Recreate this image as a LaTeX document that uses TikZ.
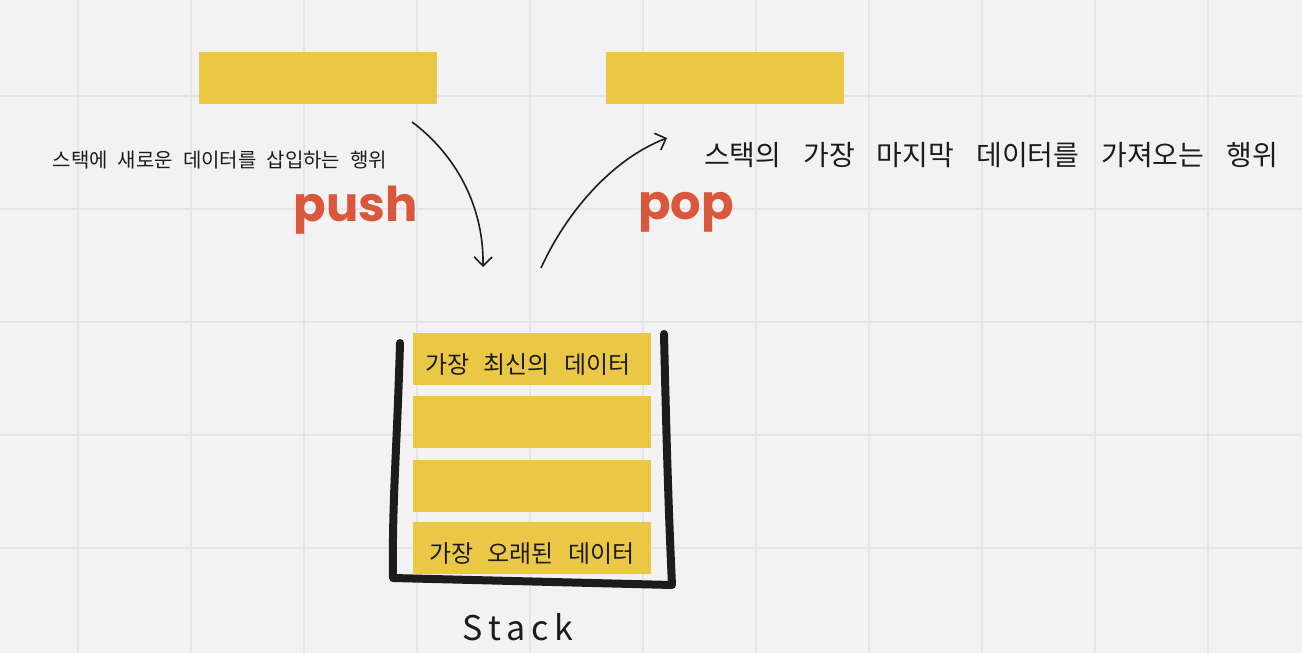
\documentclass[tikz,border=0pt]{standalone}
\usepackage{fontspec}
\setmainfont{Noto Sans CJK KR}
\newfontfamily\popfont{Poppins}
\usetikzlibrary{arrows.meta, positioning}
\definecolor{paper}{HTML}{F2F2F2}
\definecolor{gridline}{HTML}{E5E5E5}
\definecolor{note}{HTML}{EBC746}
\definecolor{accent}{HTML}{D9573A}
\definecolor{ink}{HTML}{1C1C1C}
\newcommand\wordgap[1]{\spaceskip=#1\relax}
\tikzset{
    databox/.style={fill=note, draw=none, minimum width=238pt, minimum height=52pt, inner sep=0pt},
    handtext/.style={text=ink, inner sep=0pt, font=\fontsize{20}{24}\selectfont\wordgap{10pt}},
    celltext/.style={text=ink, inner sep=0pt, font=\fontsize{24}{28}\selectfont\wordgap{14pt}},
    opname/.style={text=accent, inner sep=0pt, font=\popfont\bfseries\fontsize{48}{50}\selectfont},
    flow/.style={-{Straight Barb[length=9pt,width=18pt]}, line width=1.6pt, ink}
}

\begin{document}
\begin{tikzpicture}[x=1pt, y=-1pt]
    % paper and grid
    \fill[paper] (0,0) rectangle (1302,653);
    \useasboundingbox (0,0) rectangle (1302,653);
    \foreach \gx in {78,191,...,1208}
        \draw[gridline, line width=1.5pt] (\gx,0) -- (\gx,653);
    \foreach \gy in {96,209,...,548}
        \draw[gridline, line width=1.5pt] (0,\gy) -- (1302,\gy);

    % incoming and outgoing data
    \node[databox] (newdata) at (318,78) {};
    \node[databox] (lastdata) at (724.5,78) {};

    % stack cells
    \node[databox] (cell1) at (532,359) {};
    \node[databox, below=11pt of cell1] (cell2) {};
    \node[databox, below=11pt of cell2] (cell3) {};
    \node[databox, below=10pt of cell3] (cell4) {};
    \node[celltext] (newest) at ([xshift=-4pt,yshift=-6pt]cell1.center) {가장 최신의 데이터};
    \node[celltext] (oldest) at ([yshift=-5pt]cell4.center) {가장 오래된 데이터};

    \draw[ink, line width=8pt, line cap=round, line join=round]
        (400,343) .. controls (397,450) and (392,500) .. (393,578)
        -- (672,585) .. controls (668,500) and (666,420) .. (664,334);
    \node[font=\fontsize{34}{36}\selectfont, text=ink, inner sep=0pt] (stackname) at (518,627) {S\,t\,a\,c\,k};

    % descriptions
    \node[handtext] (pushtext) at (220,160) {스택에 새로운 데이터를 삽입하는 행위};
    \node[handtext, font=\fontsize{28}{32}\selectfont\wordgap{22pt}] (poptext) at (991,155) {스택의 가장 마지막 데이터를 가져오는 행위};
    \node[opname] (push) at (356,210) {push};
    \node[opname] (pop) at (686,212) {pop};

    % arrows
    \coordinate (pushstart) at (412,122);
    \coordinate (pushend) at (483,267);
    \coordinate (popstart) at (541,268);
    \coordinate (popend) at (667,138);
    \draw[flow] (pushstart) .. controls (450,150) and (484,200) .. (pushend);
    \draw[flow] (popstart) .. controls (565,215) and (610,160) .. (popend);
\end{tikzpicture}
\end{document}
